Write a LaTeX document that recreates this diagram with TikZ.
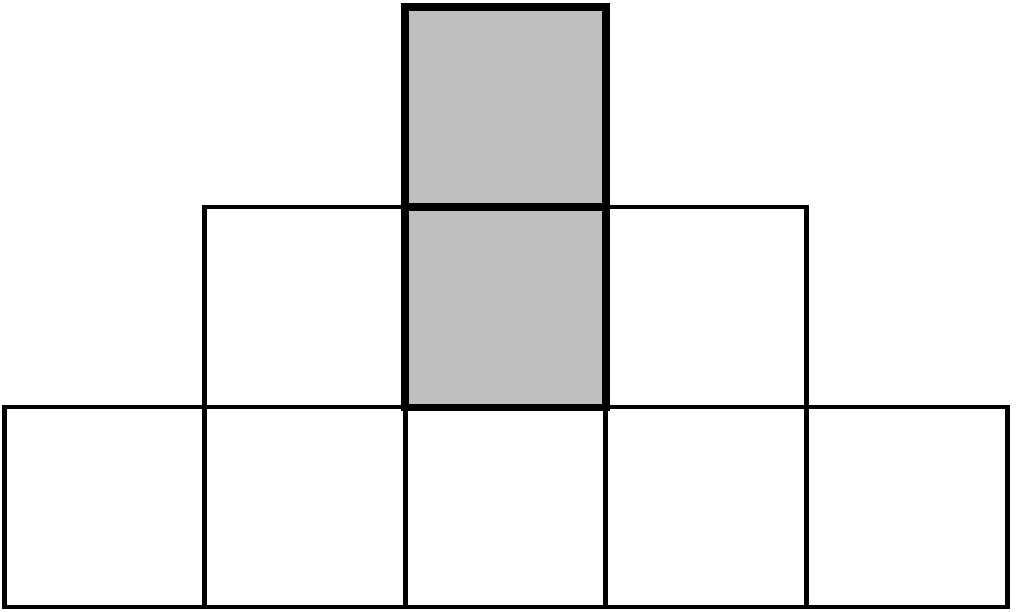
\documentclass[tikz,border=0pt]{standalone}
\usetikzlibrary{positioning}

\begin{document}
\begin{tikzpicture}[node distance=2cm and 2.006cm, on grid,
    cell/.style={draw, line width=1.4pt, minimum width=2.006cm, minimum height=2cm, inner sep=0pt, outer sep=0pt},
    shaded/.style={cell, fill=black!25, line width=2.3pt}]
                \useasboundingbox (0,0) rectangle (10.24,6.11);

                % MIDDLE ROW
                \node[cell] (m0) at (3.05,3.04) {};
                \node[shaded] (m1) [right=of m0] {};
                \node[cell] (m2) [right=of m1] {};

                % TOP
                \node[shaded] (t) [above=of m1] {};

                % BOTTOM ROW
                \node[cell] (b0) at (1.044,1.04) {};
                \foreach \i [count=\j from 1] in {0,...,3}
                    \node[cell] (b\j) [right=of b\i] {};

                % thin edge under the shaded cell, thick sides over the bottom row
                \draw[line width=1.4pt, black!25] ([yshift=1.6pt] m1.south west) -- ([yshift=1.6pt] m1.south east);
                \draw[line width=2.3pt] (m1.south west) -- (m1.north west) (m1.north east) -- (m1.south east);
\end{tikzpicture}
\end{document}
